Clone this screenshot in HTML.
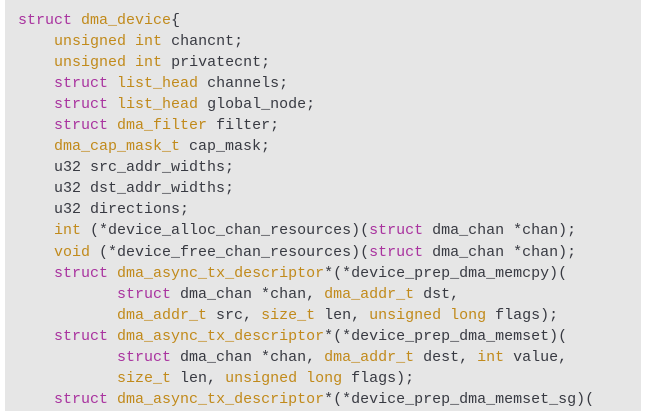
<!DOCTYPE html>
<html><head><meta charset="utf-8"><style>
html,body{margin:0;padding:0;background:#fff;width:653px;height:413px;overflow:hidden}
.p{position:absolute;left:5px;top:0;width:636px;height:411px;background:#e6e6e6}
pre{position:absolute;left:18px;top:10px;margin:0;font-family:"Liberation Mono",monospace;font-size:15px;line-height:21.05px;color:#383a42}
.k{color:#a9339f}.t{color:#c18a1b}
</style></head><body><div class="p"></div><pre><span class="k">struct</span> <span class="t">dma_device</span>{
    <span class="t">unsigned</span> <span class="t">int</span> chancnt;
    <span class="t">unsigned</span> <span class="t">int</span> privatecnt;
    <span class="k">struct</span> <span class="t">list_head</span> channels;
    <span class="k">struct</span> <span class="t">list_head</span> global_node;
    <span class="k">struct</span> <span class="t">dma_filter</span> filter;
    <span class="t">dma_cap_mask_t</span> cap_mask;
    u32 src_addr_widths;
    u32 dst_addr_widths;
    u32 directions;
    <span class="t">int</span> (*device_alloc_chan_resources)(<span class="k">struct</span> dma_chan *chan);
    <span class="t">void</span> (*device_free_chan_resources)(<span class="k">struct</span> dma_chan *chan);
    <span class="k">struct</span> <span class="t">dma_async_tx_descriptor</span>*(*device_prep_dma_memcpy)(
           <span class="k">struct</span> dma_chan *chan, <span class="t">dma_addr_t</span> dst,
           <span class="t">dma_addr_t</span> src, <span class="t">size_t</span> len, <span class="t">unsigned</span> <span class="t">long</span> flags);
    <span class="k">struct</span> <span class="t">dma_async_tx_descriptor</span>*(*device_prep_dma_memset)(
           <span class="k">struct</span> dma_chan *chan, <span class="t">dma_addr_t</span> dest, <span class="t">int</span> value,
           <span class="t">size_t</span> len, <span class="t">unsigned</span> <span class="t">long</span> flags);
    <span class="k">struct</span> <span class="t">dma_async_tx_descriptor</span>*(*device_prep_dma_memset_sg)(
</pre></body></html>
